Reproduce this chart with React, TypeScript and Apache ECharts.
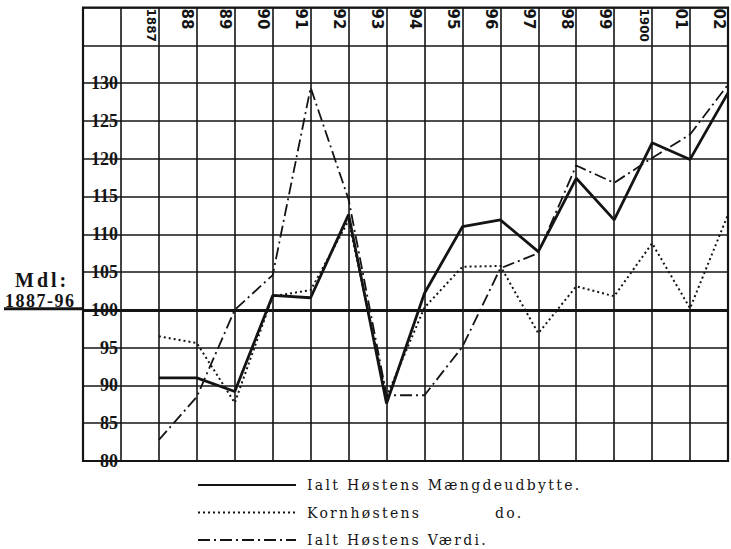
import React, { useEffect, useRef } from "react";
import * as echarts from "echarts";

const years = ["1887", "88", "89", "90", "91", "92", "93", "94", "95", "96", "97", "98", "99", "1900", "01", "02"];
const maengde = [91, 91, 89.2, 101.9, 101.6, 112.6, 87.6, 102.2, 111, 111.9, 107.7, 117.4, 111.9, 122.1, 119.9, 128.7];
const korn = [96.5, 95.6, 87.7, 101.8, 102.6, 111.8, 88.5, 100.3, 105.7, 105.8, 96.9, 103.1, 101.8, 108.8, 100.2, 112.6];
const vaerdi = [82.8, 88.5, 100, 104.6, 129.4, 114.6, 88.7, 88.7, 95.1, 105.5, 107.5, 119.1, 116.8, 120.1, 123.2, 129.8];
const yTicks = [80, 85, 90, 95, 100, 105, 110, 115, 120, 125, 130];

const names = ["Ialt Høstens Mængdeudbytte.", "Kornhøstens do.", "Ialt Høstens Værdi."];

const INK = "#141414";
const SERIF = "'DejaVu Serif', 'Liberation Serif', serif";
const SANS = "'DejaVu Sans', 'Liberation Sans', sans-serif";

export default function App() {
  const ref = useRef<HTMLDivElement>(null);
  useEffect(() => {
    if (!ref.current) return;
    const chart = echarts.init(ref.current, undefined, { renderer: "svg" });
    const toPairs = (arr: number[]) => arr.map((v, i) => [i, v]);
    const option: any = {
      animation: false,
      backgroundColor: "#ffffff",
      grid: {
        show: true, left: 83, right: 3, top: 7.5, bottom: 88,
        containLabel: false, outerBoundsMode: "none",
        borderColor: INK, borderWidth: 2.2, backgroundColor: "transparent",
      },
      xAxis: {
        type: "value", position: "top", min: -2, max: 15, interval: 1,
        axisLine: { show: false }, axisTick: { show: false },
        splitLine: { show: true, lineStyle: { color: INK, width: 1.6 } },
        axisLabel: {
          inside: true, rotate: 90, margin: 1, verticalAlign: "top", padding: [2, 0, 0, 0],
          color: INK, fontSize: 15, fontWeight: "bold", fontFamily: SANS,
          rich: { s: { fontSize: 12, fontWeight: "bold", fontFamily: SANS, color: INK } },
          formatter: (v: number) => {
            if (!(v >= 0 && v < years.length)) return "";
            const y = years[v];
            return y.length === 4 ? `{s|${y}}` : y;
          },
        },
      },
      yAxis: {
        type: "value", min: 80, max: 140, interval: 5,
        axisLine: { show: false }, axisTick: { show: false },
        splitLine: { show: true, lineStyle: { color: INK, width: 1.6 } },
        axisLabel: {
          inside: true, margin: 35, align: "right", verticalAlign: "middle", padding: [0, 0, 14, 0],
          color: INK, fontSize: 18, fontWeight: "bold", fontFamily: "'Liberation Serif', serif",
          formatter: (v: number) => (yTicks.indexOf(v) >= 0 ? String(v) : ""),
        },
      },
      legend: {
        orient: "vertical", left: 197, top: 478, padding: 0, itemWidth: 98, itemHeight: 14, itemGap: 13.5,
        selectedMode: false, data: names, itemStyle: { opacity: 0 },
        textStyle: {
          color: INK, fontSize: 14, fontFamily: SERIF, padding: [0, 0, 0, 6],
          rich: {
            a: { width: 188, fontSize: 14, fontFamily: SERIF, color: INK },
            b: { fontSize: 14, fontFamily: SERIF, color: INK },
          },
        },
        formatter: (name: string) => (name === names[1] ? "{a|Kornhøstens}{b|do.}" : name),
      },
      series: [
        {
          name: names[0], type: "line", data: toPairs(maengde), symbol: "none",
          lineStyle: { color: INK, width: 2.8, type: "solid" }, itemStyle: { color: INK },
          markLine: {
            silent: true, symbol: ["none", "none"], label: { show: false },
            lineStyle: { color: INK, width: 3, type: "solid" }, data: [{ yAxis: 100 }],
          },
          z: 5,
        },
        {
          name: names[1], type: "line", data: toPairs(korn), symbol: "none",
          lineStyle: { color: INK, width: 2, type: [2, 3] }, itemStyle: { color: INK }, z: 4,
        },
        {
          name: names[2], type: "line", data: toPairs(vaerdi), symbol: "none",
          lineStyle: { color: INK, width: 1.8, type: [12, 4, 2, 4] }, itemStyle: { color: INK }, z: 4,
        },
      ],
    };
    chart.setOption(option);

    const y100 = chart.convertToPixel({ yAxisIndex: 0 }, 100) as number;
    const xLeft = chart.convertToPixel({ xAxisIndex: 0 }, -2) as number;
    chart.setOption({
      graphic: [
        { type: "line", shape: { x1: 4, y1: y100 - 1, x2: xLeft, y2: y100 - 1 }, style: { stroke: INK, lineWidth: 3 }, silent: true },
        { type: "text", x: 15, y: y100 - 20, style: { text: "Mdl:", fill: INK, font: "bold 20px 'Liberation Serif', serif", textAlign: "left", textVerticalAlign: "bottom" }, silent: true },
        { type: "text", x: 5, y: y100 + 0.5, style: { text: "1887-96", fill: INK, font: "bold 18px 'Liberation Serif', serif", textAlign: "left", textVerticalAlign: "bottom" }, silent: true },
      ],
    });

    const applySpacing = () => {
      const el = ref.current;
      if (!el) return;
      el.querySelectorAll("text").forEach((t) => {
        const s = t.textContent || "";
        if (/Høstens|Kornhøstens|^do\.$/.test(s)) (t as any).style.letterSpacing = "2.3px";
        if (s === "1887-96") (t as any).style.letterSpacing = "1.5px";
        if (s === "Mdl:") (t as any).style.letterSpacing = "3px";
      });
    };
    chart.on("finished", applySpacing);
    const tm = setTimeout(applySpacing, 50);

    return () => {
      clearTimeout(tm);
      chart.dispose();
    };
  }, []);
  return <div ref={ref} style={{ position: "fixed", left: 0, top: 0, width: 731, height: 549 }} />;
}
